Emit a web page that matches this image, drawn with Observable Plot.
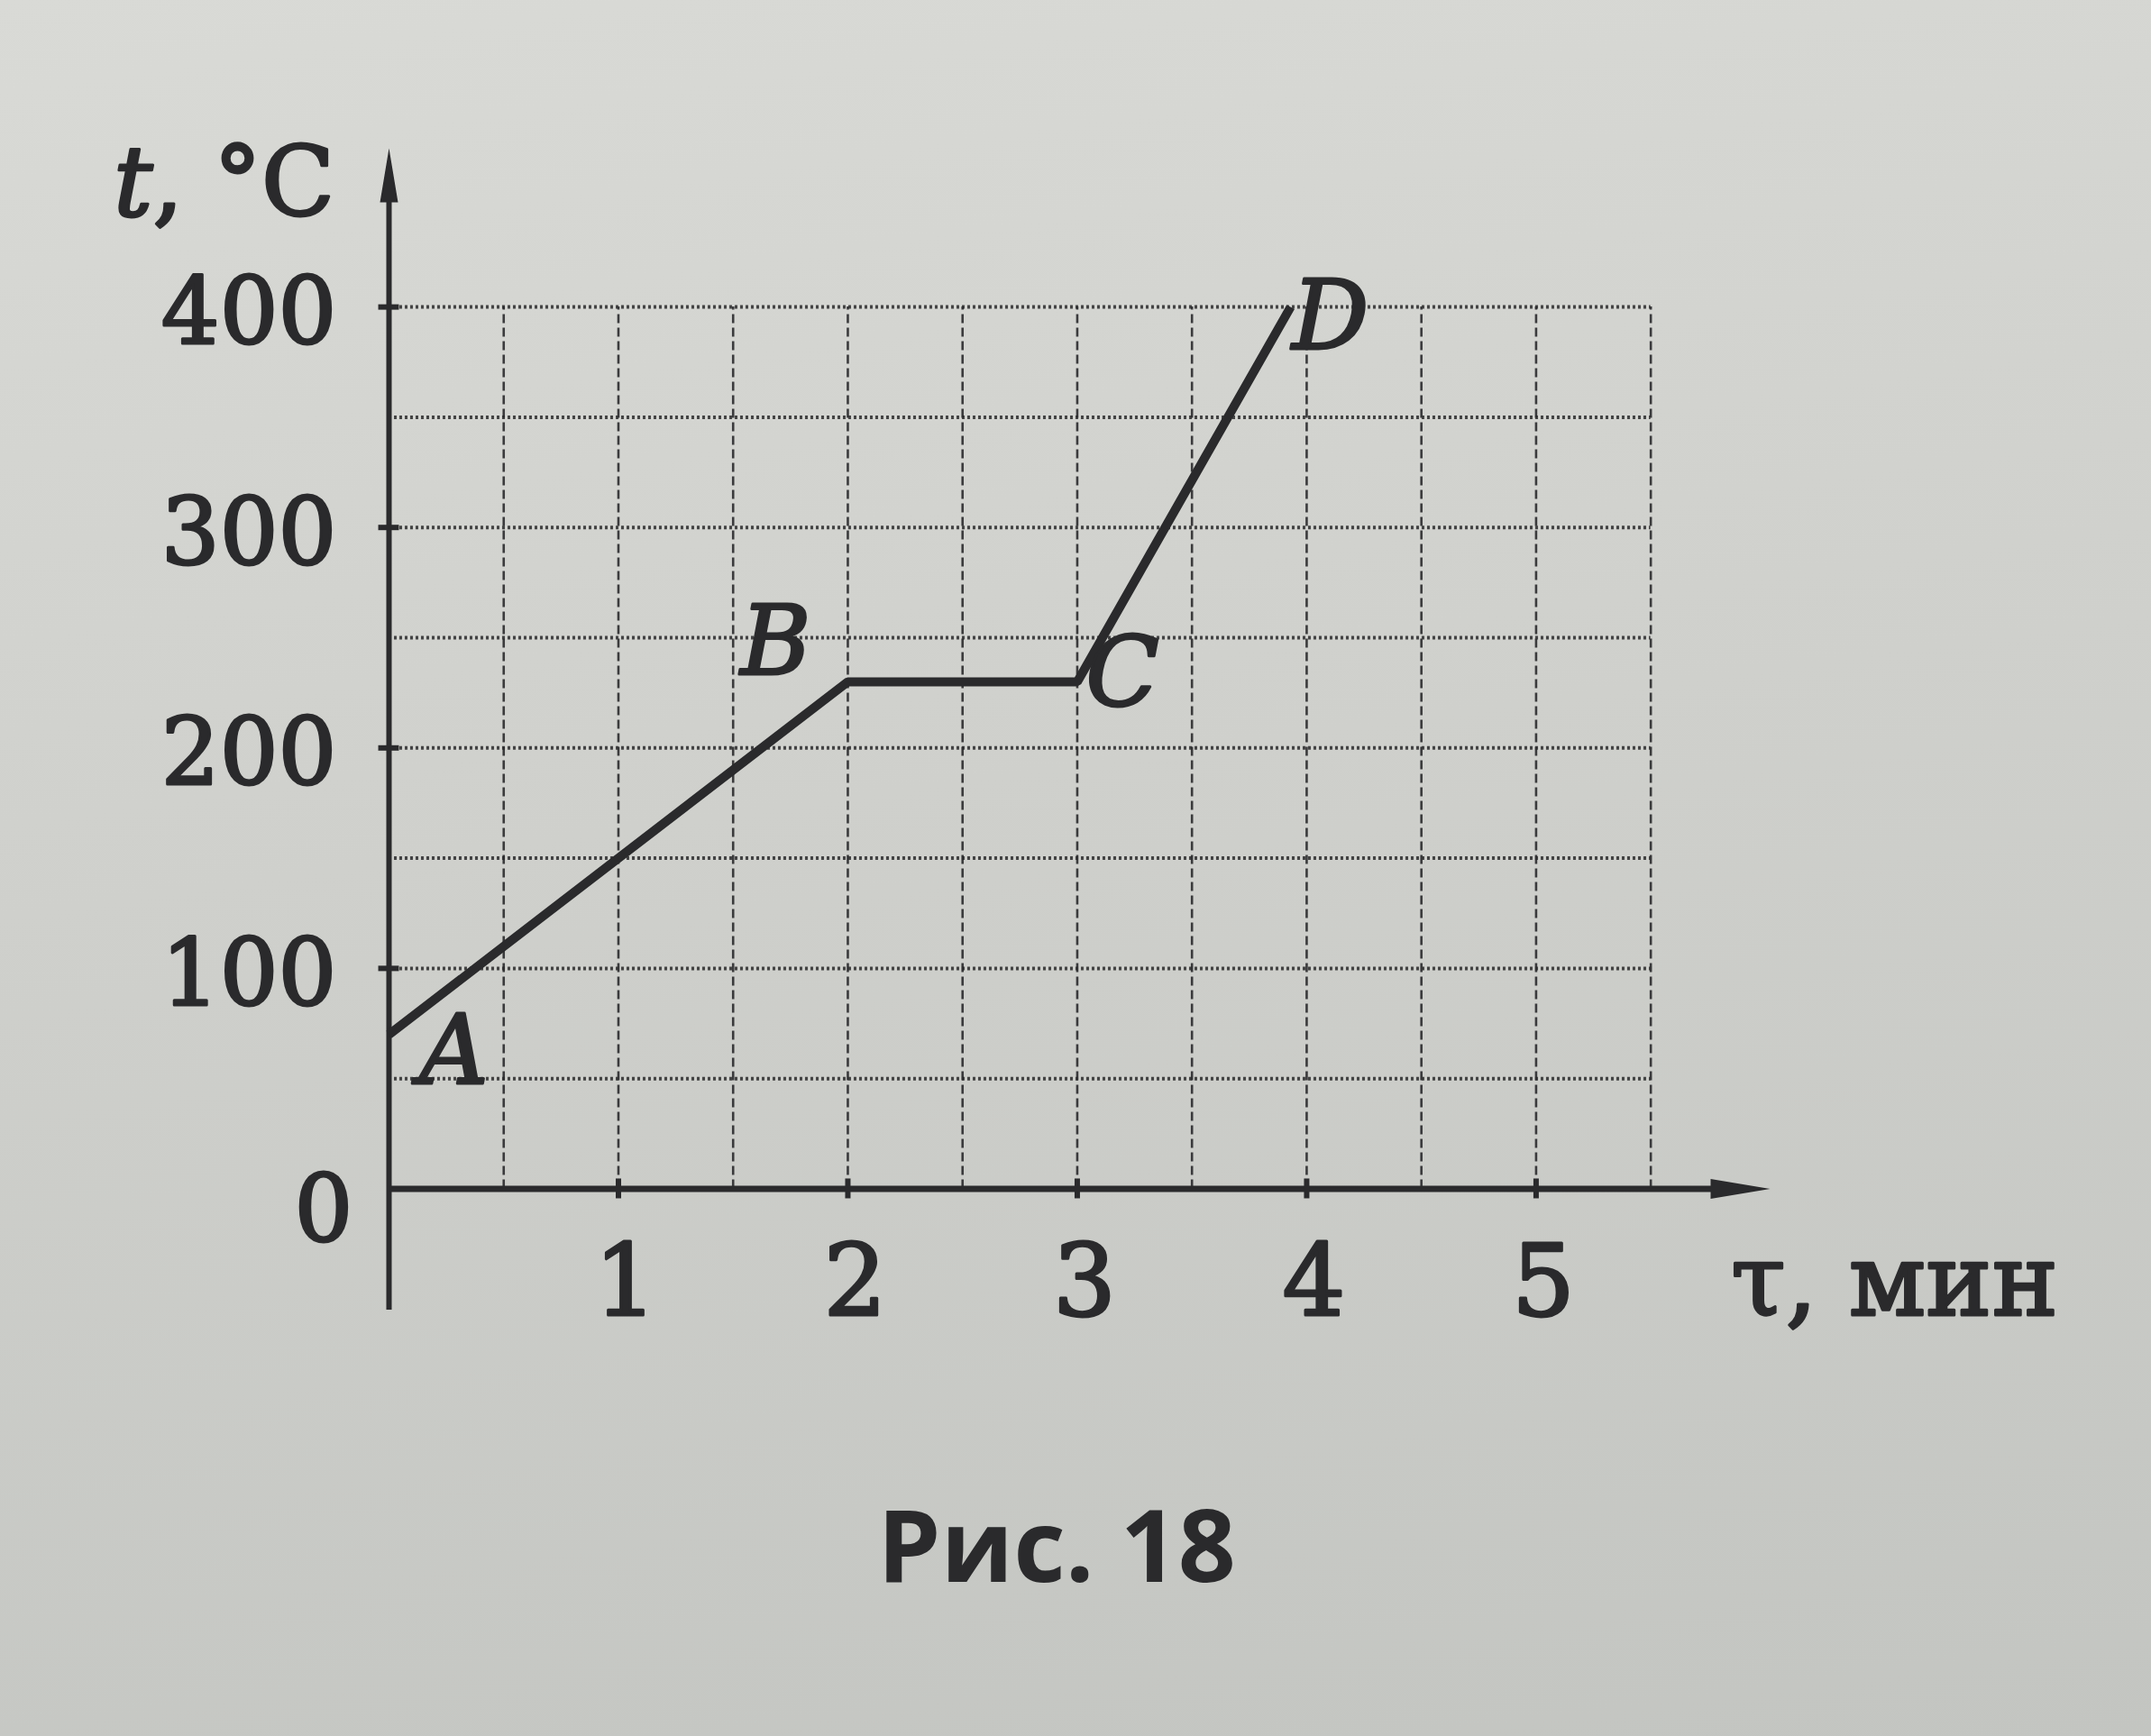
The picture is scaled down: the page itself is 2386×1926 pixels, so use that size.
<!DOCTYPE html>
<html>
<head>
<meta charset="utf-8">
<script src="https://cdn.jsdelivr.net/npm/d3@7"></script>
<script src="https://cdn.jsdelivr.net/npm/@observablehq/plot@0.6"></script>
<style>
  html, body { margin: 0; padding: 0; }
  body {
    width: 2386px; height: 1926px; overflow: hidden;
    background: linear-gradient(172deg, #d9dad6 0%, #cfd0cc 45%, #c3c5c1 100%);
  }
  #chart svg { display: block; }
  #caption {
    width: 2386px; box-sizing: border-box; padding-right: 42px;
    text-align: center; line-height: 224px; height: 224px;
    font-family: "Open Sans", "Noto Sans", sans-serif; font-weight: 700;
    font-size: 112px; color: #2a2a2c;
  }
</style>
</head>
<body>
<div id="chart"></div>
<div id="caption">Рис. 18</div>
<script>
// ---- data ----
const timeMin   = [0, 2, 3, 3.93];        // τ, мин
const tempC     = [70, 230, 230, 400];    // t, °C
const pointNames = ["A", "B", "C", "D"];
const xTickValues = [1, 2, 3, 4, 5];
const yTickValues = [100, 200, 300, 400];
const gridXValues = [0.5, 1, 1.5, 2, 2.5, 3, 3.5, 4, 4.5, 5, 5.5];
const gridYValues = [50, 100, 150, 200, 250, 300, 350, 400];
const xAxisTitle = "τ, мин";
const yAxisTitleVar = "t";
const yAxisTitleUnit = ", °C";

const ink = "#2a2a2c";
const points = pointNames.map((name, i) => ({name, t: timeMin[i], temp: tempC[i]}));

const X_MAX = 6.02, Y_MIN = -55, Y_MAX = 472;

// custom arrowhead symbols (tip at the anchor point)
const arrowUp = { draw(ctx) { ctx.moveTo(0, 0); ctx.lineTo(-10, 60); ctx.lineTo(10, 60); ctx.closePath(); } };
const arrowRight = { draw(ctx) { ctx.moveTo(0, 0); ctx.lineTo(-66, -11); ctx.lineTo(-66, 11); ctx.closePath(); } };

const serif = "DejaVu Serif, serif";
const textStyle = {fontFamily: serif, fill: ink, stroke: ink, strokeWidth: 3, paintOrder: "fill"};
const labelOffsets = {A: [72, 20], B: [-80, -42], C: [50, -8], D: [44, 12]};

const chart = Plot.plot({
  width: 2386,
  height: 1600,
  marginLeft: 431,
  marginRight: 423,
  marginTop: 164,
  marginBottom: 147,
  x: {domain: [0, X_MAX], axis: null},
  y: {domain: [Y_MIN, Y_MAX], axis: null},
  style: {background: "transparent", overflow: "visible"},
  marks: [
    // grid
    Plot.ruleX(gridXValues, {x: d => d, y1: 0, y2: 400, stroke: ink, strokeWidth: 2.6, strokeDasharray: "10,5", strokeOpacity: 0.9}),
    Plot.ruleY(gridYValues, {y: d => d, x1: 0, x2: 5.5, stroke: ink, strokeWidth: 4, strokeDasharray: "3,3", strokeOpacity: 0.85}),
    // axes
    Plot.ruleY([0], {y: d => d, x1: 0, x2: X_MAX - 0.2, stroke: ink, strokeWidth: 7}),
    Plot.ruleX([0], {x: d => d, y1: Y_MIN, y2: Y_MAX - 20, stroke: ink, strokeWidth: 6}),
    Plot.dot([X_MAX], {x: d => d, y: 0, symbol: arrowRight, fill: ink, stroke: "none", r: 10}),
    Plot.dot([Y_MAX], {x: 0, y: d => d, symbol: arrowUp, fill: ink, stroke: "none", r: 10}),
    // axis ticks
    Plot.ruleY(yTickValues, {y: d => d, x1: -0.045, x2: 0.045, stroke: ink, strokeWidth: 6}),
    Plot.ruleX(xTickValues, {x: d => d, y1: -4.5, y2: 4.5, stroke: ink, strokeWidth: 6}),
    // tick labels
    Plot.text(yTickValues, {x: 0, y: d => d, text: d => String(d), textAnchor: "end", dx: -58, dy: 8,
      fontSize: 102, ...textStyle}),
    Plot.text([0], {x: 0, y: d => d, text: d => String(d), textAnchor: "end", dx: -40, dy: 25,
      fontSize: 102, ...textStyle}),
    Plot.text(xTickValues, {x: d => d, y: 0, text: d => String(d), dx: 8, dy: 105,
      fontSize: 110, ...textStyle}),
    // axis titles
    Plot.text([xAxisTitle], {x: X_MAX, y: 0, text: d => d, dx: 138, dy: 105,
      fontSize: 110, ...textStyle}),
    Plot.text([yAxisTitleVar], {x: 0, y: Y_MAX, text: d => d, textAnchor: "end", dx: -262, dy: 40,
      fontSize: 108, fontStyle: "italic", ...textStyle}),
    Plot.text([yAxisTitleUnit], {x: 0, y: Y_MAX, text: d => d, textAnchor: "start", dx: -262, dy: 40,
      fontSize: 106, ...textStyle}),
    // the curve
    Plot.line(points, {x: "t", y: "temp", stroke: ink, strokeWidth: 10, strokeLinejoin: "miter", strokeLinecap: "butt"}),
    // point labels
    ...points.map(p => Plot.text([p], {x: "t", y: "temp", text: "name",
      dx: labelOffsets[p.name][0], dy: labelOffsets[p.name][1],
      fontSize: 106, fontStyle: "italic", ...textStyle}))
  ]
});
document.getElementById("chart").appendChild(chart);
</script>
</body>
</html>
